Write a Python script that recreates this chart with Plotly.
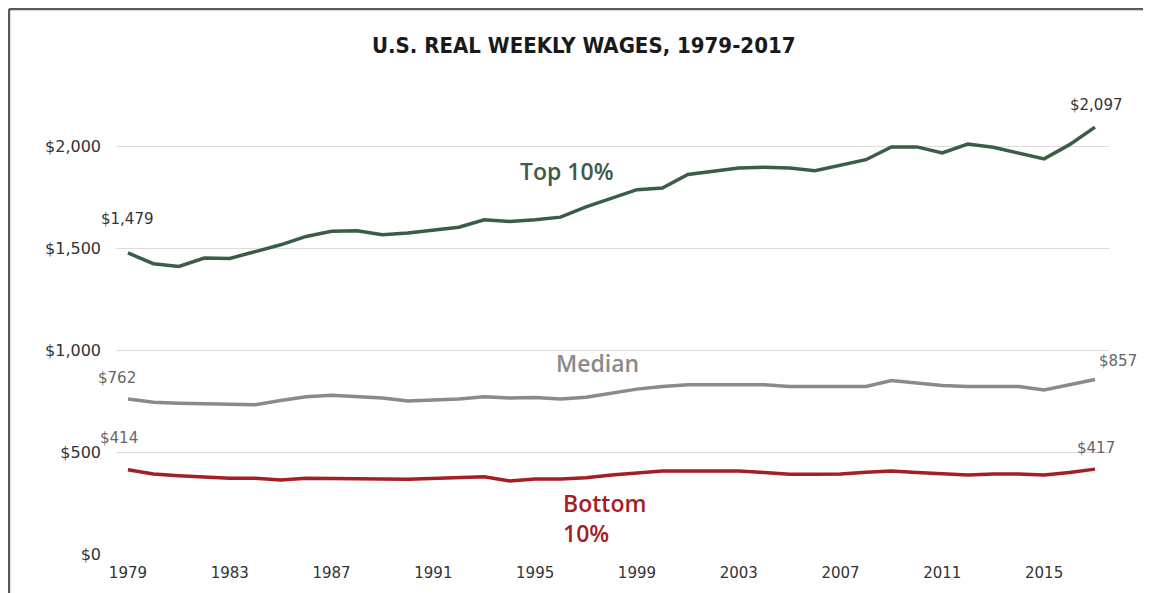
import plotly.graph_objects as go

years = list(range(1979, 2018))
top10 = [1479, 1426, 1413, 1454, 1452, 1486, 1519, 1560, 1585, 1588, 1568, 1577, 1590,
         1605, 1642, 1634, 1642, 1655, 1705, 1749, 1790, 1798, 1864, 1880, 1896, 1900,
         1896, 1883, 1908, 1937, 2000, 2000, 1970, 2014, 1998, 1970, 1941, 2011, 2097]
median = [762, 746, 741, 738, 733, 733, 754, 773, 780, 773, 766, 752, 757, 762, 773,
          766, 769, 762, 770, 790, 810, 823, 831, 831, 831, 831, 823, 823, 823, 823,
          852, 842, 828, 823, 823, 823, 806, 831, 857]
bottom10 = [414, 393, 385, 380, 372, 372, 364, 372, 372, 372, 369, 367, 372, 375, 380,
            359, 369, 369, 375, 388, 400, 408, 408, 408, 408, 400, 392, 392, 393, 402,
            408, 400, 393, 388, 393, 393, 388, 400, 417]
x_ticks = list(range(1979, 2017, 4))
y_ticks = [0, 500, 1000, 1500, 2000]
y_tick_labels = ["$0", "$500", "$1,000", "$1,500", "$2,000"]

GREEN = "#3b5c46"
GREY = "#8a8a8a"
RED = "#a41e24"
FONT = "DejaVu Sans"
LABEL_FONT = "Open Sans"

fig = go.Figure()
for vals, col in [(top10, GREEN), (median, GREY), (bottom10, RED)]:
    fig.add_trace(go.Scatter(x=years, y=vals, mode="lines",
                             line=dict(color=col, width=3.5), hoverinfo="skip",
                             showlegend=False))

def money(v):
    return "${:,}".format(v)

value_labels = [
    (years[0], top10[0], 0, 34, "#333333"),
    (years[-1], top10[-1], 1, 22, "#333333"),
    (years[0], median[0], -11, 21, "#666666"),
    (years[-1], median[-1], 23, 19, "#666666"),
    (years[0], bottom10[0], -9, 32, "#666666"),
    (years[-1], bottom10[-1], 1, 21, "#666666"),
]
annotations = []
for x, y, xs, ys, col in value_labels:
    annotations.append(dict(x=x, y=y, text=money(y), showarrow=False,
                            xshift=xs, yshift=ys,
                            font=dict(family=FONT, size=15, color=col)))

annotations += [
    dict(x=1996.25, y=1882, text="Top 10%", showarrow=False,
         font=dict(family=LABEL_FONT, size=23, color=GREEN, weight=600)),
    dict(x=1997.47, y=938, text="Median", showarrow=False,
         font=dict(family=LABEL_FONT, size=23, color=GREY, weight=600)),
    dict(x=1996.0, y=179, text="Bottom<br>10%", showarrow=False, xanchor="left",
         align="left", font=dict(family=LABEL_FONT, size=23, color=RED, weight=600)),
    dict(xref="paper", yref="paper", x=0.471, y=1.111, yanchor="middle",
         xanchor="center",
         text="U.S. REAL WEEKLY WAGES, 1979-2017", showarrow=False,
         font=dict(family="DejaVu Sans Condensed, Liberation Sans Narrow, Roboto",
                   size=22, color="#1a1a1a", weight=700)),
]

fig.update_layout(
    width=1151, height=593,
    margin=dict(l=108, r=50, t=88, b=47),
    paper_bgcolor="white", plot_bgcolor="white",
    annotations=annotations,
    xaxis=dict(range=[1978.53, 2017.55], tickvals=x_ticks, showgrid=False,
               zeroline=False, showline=False, ticks="", ticklabelstandoff=8,
               tickfont=dict(family=FONT, size=15, color="#333333")),
    yaxis=dict(range=[0, 2250], tickvals=y_ticks, ticktext=y_tick_labels,
               showgrid=True, gridcolor="#dcdcdc", gridwidth=1, zeroline=False,
               showline=False, ticks="", ticklabelstandoff=14,
               tickfont=dict(family=FONT, size=16, color="#333333")),
    shapes=[
        dict(type="line", xref="paper", yref="paper", x0=-0.1078, x1=1.06,
             y0=1.19, y1=1.19, line=dict(color="#5a5a5a", width=2.5)),
        dict(type="line", xref="paper", yref="paper", x0=-0.1078, x1=-0.1078,
             y0=1.19, y1=-0.2, line=dict(color="#5a5a5a", width=2.5)),
    ],
)

fig.write_html("out.html")
